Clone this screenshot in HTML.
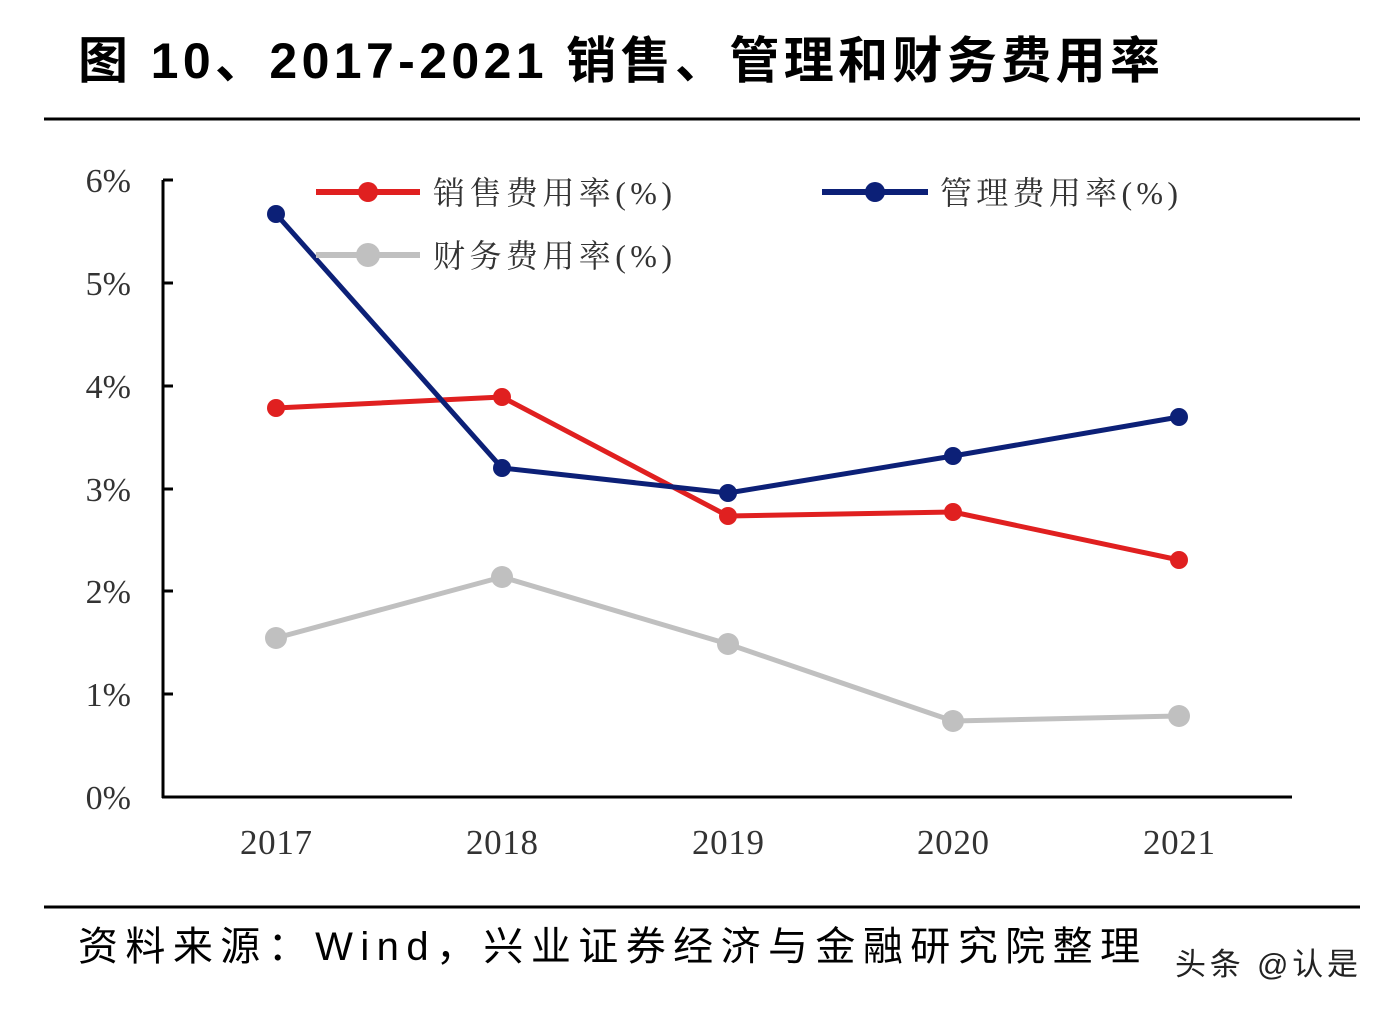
<!DOCTYPE html>
<html><head><meta charset="utf-8"><style>
html,body{margin:0;padding:0;background:#fff;}
body{width:1388px;height:1010px;overflow:hidden;}
</style></head><body>
<svg width="1388" height="1010" xmlns="http://www.w3.org/2000/svg">
<text x="78" y="78" textLength="1082" lengthAdjust="spacing" font-family="'Liberation Sans','Noto Sans CJK SC',sans-serif" font-size="50" font-weight="bold" fill="#000">图 10、2017-2021 销售、管理和财务费用率</text>
<line x1="44" y1="119" x2="1360" y2="119" stroke="#000" stroke-width="3"/>
<line x1="44" y1="907" x2="1360" y2="907" stroke="#000" stroke-width="3"/>
<text x="78" y="960" textLength="1062" lengthAdjust="spacing" font-family="'Liberation Sans','Noto Sans CJK SC',sans-serif" font-size="40" fill="#000">资料来源：Wind，兴业证券经济与金融研究院整理</text>
<text x="1175" y="975" textLength="183" lengthAdjust="spacing" font-family="'Liberation Sans','Noto Sans CJK SC',sans-serif" font-size="31" fill="#222">头条 @认是</text>
<g stroke="#000" stroke-width="3">
<line x1="163" y1="180" x2="163" y2="798"/>
<line x1="162" y1="797" x2="1292" y2="797"/>
<line x1="163" y1="180" x2="173" y2="180"/>
<line x1="163" y1="283" x2="173" y2="283"/>
<line x1="163" y1="386" x2="173" y2="386"/>
<line x1="163" y1="489" x2="173" y2="489"/>
<line x1="163" y1="591" x2="173" y2="591"/>
<line x1="163" y1="694" x2="173" y2="694"/>
</g>
<g font-family="'Liberation Serif','Noto Serif CJK SC',serif" font-size="34" fill="#333" text-anchor="end">
<text x="131" y="192">6%</text><text x="131" y="295">5%</text><text x="131" y="398">4%</text>
<text x="131" y="501">3%</text><text x="131" y="603">2%</text><text x="131" y="706">1%</text><text x="131" y="809">0%</text>
</g>
<g font-family="'Liberation Serif','Noto Serif CJK SC',serif" font-size="35" fill="#333">
<text x="240" y="854" textLength="72">2017</text><text x="466" y="854" textLength="72">2018</text><text x="692" y="854" textLength="72">2019</text><text x="917" y="854" textLength="72">2020</text><text x="1143" y="854" textLength="72">2021</text>
</g>
<g fill="none" stroke-width="5" stroke-linejoin="round">
<polyline stroke="#c0c0c0" points="276,638 502,577 728,644 953,721 1179,716"/>
<polyline stroke="#e02020" points="276,408 502,397 728,516 953,512 1179,560"/>
<polyline stroke="#0c2077" points="276,214 502,468 728,493 953,456 1179,417"/>
</g>
<g fill="#c0c0c0"><circle cx="276" cy="638" r="11"/><circle cx="502" cy="577" r="11"/><circle cx="728" cy="644" r="11"/><circle cx="953" cy="721" r="11"/><circle cx="1179" cy="716" r="11"/></g>
<g fill="#e02020"><circle cx="276" cy="408" r="9"/><circle cx="502" cy="397" r="9"/><circle cx="728" cy="516" r="9"/><circle cx="953" cy="512" r="9"/><circle cx="1179" cy="560" r="9"/></g>
<g fill="#0c2077"><circle cx="276" cy="214" r="9"/><circle cx="502" cy="468" r="9"/><circle cx="728" cy="493" r="9"/><circle cx="953" cy="456" r="9"/><circle cx="1179" cy="417" r="9"/></g>
<line x1="316" y1="192" x2="420" y2="192" stroke="#e02020" stroke-width="6"/><circle cx="368" cy="192" r="10" fill="#e02020"/>
<line x1="822" y1="192" x2="928" y2="192" stroke="#0c2077" stroke-width="6"/><circle cx="875" cy="192" r="10" fill="#0c2077"/>
<line x1="316" y1="255" x2="420" y2="255" stroke="#c0c0c0" stroke-width="6"/><circle cx="368" cy="255" r="12" fill="#c0c0c0"/>
<g font-family="'Liberation Serif','Noto Serif CJK SC',serif" font-size="32" fill="#333">
<text x="433" y="204" textLength="239" lengthAdjust="spacing">销售费用率(%)</text>
<text x="940" y="204" textLength="238" lengthAdjust="spacing">管理费用率(%)</text>
<text x="433" y="267" textLength="239" lengthAdjust="spacing">财务费用率(%)</text>
</g>
</svg>
</body></html>
